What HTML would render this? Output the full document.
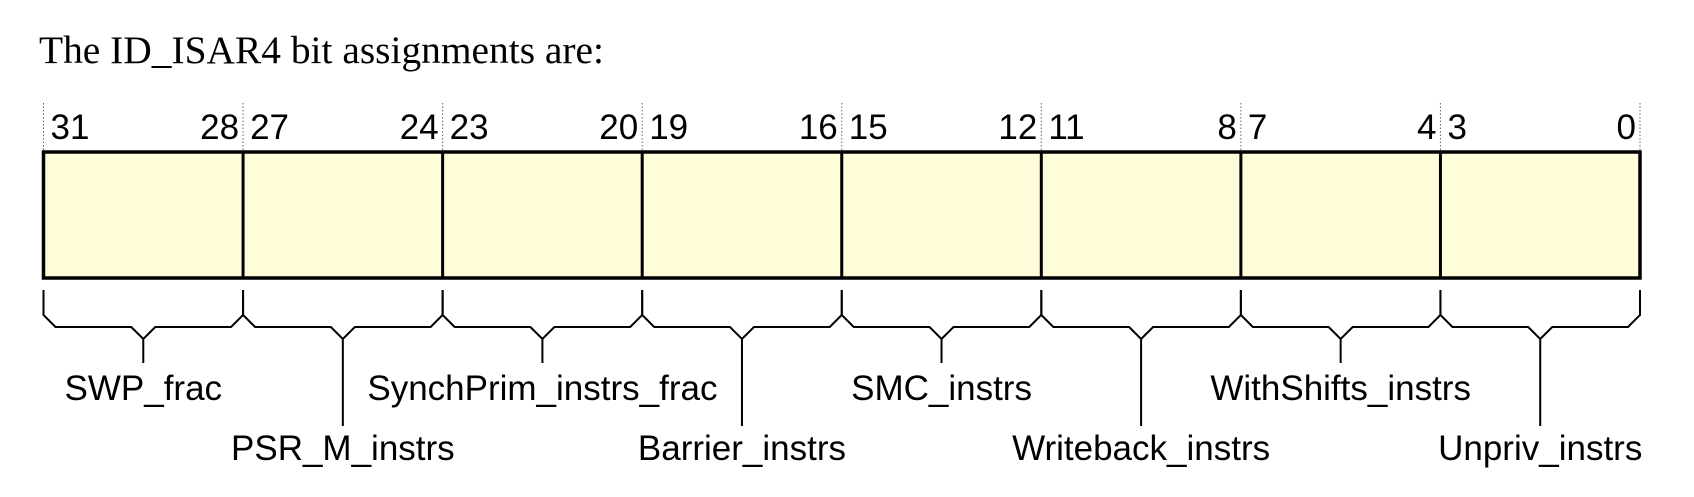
<!DOCTYPE html>
<html><head><meta charset="utf-8"><style>html,body{margin:0;padding:0;background:#fff}svg{display:block}</style></head>
<body>
<svg width="1694" height="497" viewBox="0 0 1694 497" xmlns="http://www.w3.org/2000/svg">
<text x="39" y="63" font-family="Liberation Serif, serif" font-size="39" textLength="565" lengthAdjust="spacingAndGlyphs">The ID_ISAR4 bit assignments are:</text>
<g id="g"></g>
</svg>
<script>
const fieldNames = ["SWP_frac","PSR_M_instrs","SynchPrim_instrs_frac","Barrier_instrs","SMC_instrs","Writeback_instrs","WithShifts_instrs","Unpriv_instrs"];
const hiBits = [31,27,23,19,15,11,7,3];
const loBits = [28,24,20,16,12,8,4,0];
const NS="http://www.w3.org/2000/svg";
const g=document.getElementById('g');
const L=43.5,R=1640,T=152,B=278,W=(R-L)/8;
function mk(t,a){const e=document.createElementNS(NS,t);for(const k in a)e.setAttribute(k,a[k]);g.appendChild(e);return e;}
const box=mk('rect',{x:L,y:T,width:R-L,height:B-T,fill:'#fefcd9',stroke:'#000','stroke-width':3.5});


for(let i=0;i<=8;i++){
  const x=L+i*W;
  const d=mk('line',{x1:x,y1:103,x2:x,y2:T,stroke:'#666','stroke-width':1,'stroke-dasharray':'1.5,2'});
  
  
  if(i>0&&i<8){const v=mk('line',{x1:x,y1:T,x2:x,y2:B,stroke:'#000','stroke-width':3});
  
  }
}
fieldNames.forEach((n,i)=>{
  const x0=L+i*W,x1=x0+W,c=x0+W/2;
  const t1=mk('text',{x:x0+7,y:139,'font-family':'Liberation Sans, sans-serif','font-size':35});
  t1.textContent=hiBits[i];
  
  
  const t2=mk('text',{x:x1-4,y:139,'text-anchor':'end','font-family':'Liberation Sans, sans-serif','font-size':35});
  t2.textContent=loBits[i];
  
  
  const long=i%2===1;
  const p=mk('path',{d:`M${x0},290 V315 L${x0+12},327 H${c-12} L${c},339 L${c+12},327 H${x1-12} L${x1},315 V290 M${c},339 V${long?426:363}`,fill:'none',stroke:'#000','stroke-width':2});
  
  
  const lb=mk('text',{x:c,y:long?460:400,'text-anchor':'middle','font-family':'Liberation Sans, sans-serif','font-size':35});
  lb.textContent=n;
  
  
});
</script>
</body></html>
